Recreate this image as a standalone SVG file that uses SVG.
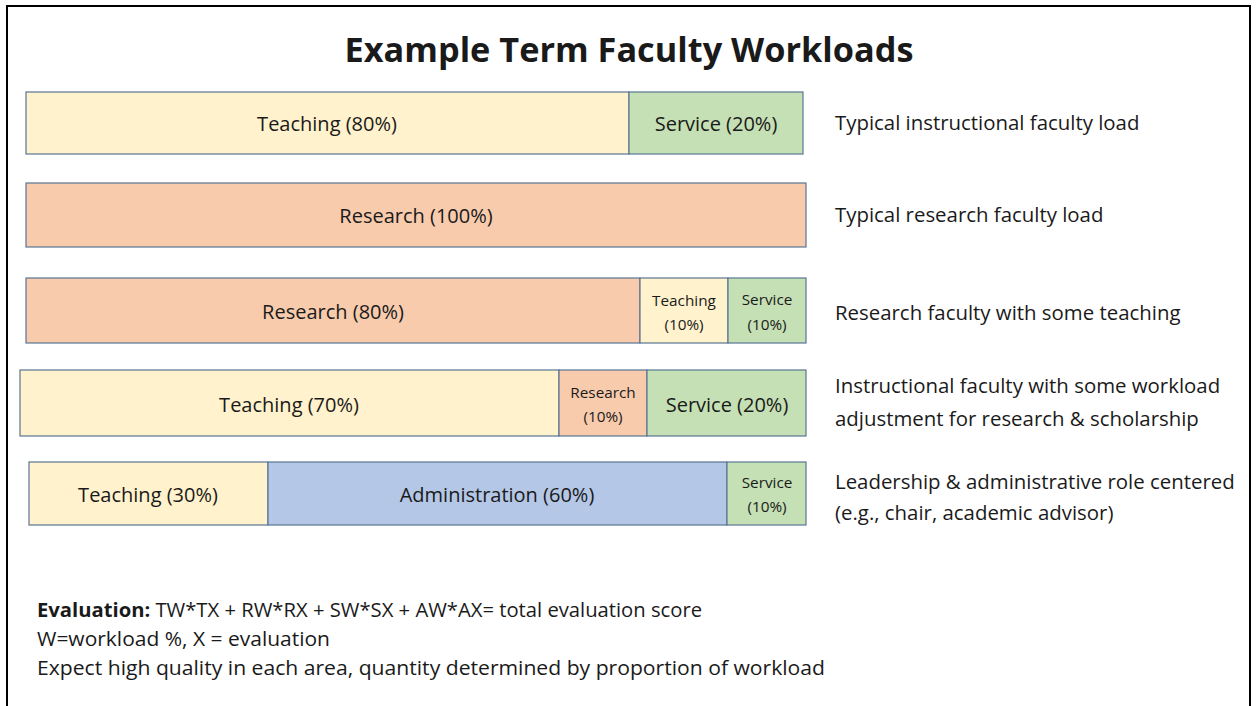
<svg xmlns="http://www.w3.org/2000/svg" width="1257" height="706" viewBox="0 0 1257 706">
<style>
.t{fill:#FFF2CC}.s{fill:#C5E0B4}.r{fill:#F8CBAD}.a{fill:#B4C7E7}
rect.b{stroke:#5A7594;stroke-width:1.2}
text{font-family:"Open Sans","Noto Sans",sans-serif;fill:#1a1a1a}
.l{font-size:20px;text-anchor:middle;dominant-baseline:central}
.sm{font-size:15.3px;text-anchor:middle}
.d{font-size:20.4px}
.e{font-size:20px}
</style>
<rect x="0" y="0" width="1257" height="706" fill="#fff"/>
<rect x="7" y="6" width="1243" height="720" fill="none" stroke="#000" stroke-width="2"/>
<text x="629" y="62" font-size="34.3" font-weight="bold" text-anchor="middle">Example Term Faculty Workloads</text>
<g id="row1">
<rect class="b t" x="26" y="92" width="603" height="62"/>
<rect class="b s" x="629" y="92" width="174" height="62"/>
<text class="l" x="327" y="123">Teaching (80%)</text>
<text class="l" x="716" y="123">Service (20%)</text>
<text class="d" x="835" y="130">Typical instructional faculty load</text>
</g>
<g id="row2">
<rect class="b r" x="26" y="183" width="780" height="64"/>
<text class="l" x="416" y="215">Research (100%)</text>
<text class="d" x="835" y="222">Typical research faculty load</text>
</g>
<g id="row3">
<rect class="b r" x="26" y="278" width="614" height="65"/>
<rect class="b t" x="640" y="278" width="88" height="65"/>
<rect class="b s" x="728" y="278" width="78" height="65"/>
<text class="l" x="333" y="311">Research (80%)</text>
<text class="sm" x="684" y="306">Teaching</text>
<text class="sm" x="684" y="330">(10%)</text>
<text class="sm" x="767" y="305">Service</text>
<text class="sm" x="767" y="330">(10%)</text>
<text class="d" x="835" y="320">Research faculty with some teaching</text>
</g>
<g id="row4">
<rect class="b t" x="20" y="370" width="539" height="66"/>
<rect class="b r" x="559" y="370" width="88" height="66"/>
<rect class="b s" x="647" y="370" width="159" height="66"/>
<text class="l" x="289" y="404">Teaching (70%)</text>
<text class="sm" x="603" y="398">Research</text>
<text class="sm" x="603" y="422">(10%)</text>
<text class="l" x="727" y="404" font-size="22.5">Service (20%)</text>
<text class="d" x="835" y="393">Instructional faculty with some workload</text>
<text class="d" x="835" y="426">adjustment for research &amp; scholarship</text>
</g>
<g id="row5">
<rect class="b t" x="29" y="462" width="239" height="63"/>
<rect class="b a" x="268" y="462" width="459" height="63"/>
<rect class="b s" x="727" y="462" width="79" height="63"/>
<text class="l" x="148" y="494">Teaching (30%)</text>
<text class="l" x="497" y="494">Administration (60%)</text>
<text class="sm" x="767" y="488">Service</text>
<text class="sm" x="767" y="512">(10%)</text>
<text class="d" x="835" y="489">Leadership &amp; administrative role centered</text>
<text class="d" x="835" y="520">(e.g., chair, academic advisor)</text>
</g>
<g id="notes">
<text class="e" x="37" y="617" textLength="665" lengthAdjust="spacingAndGlyphs"><tspan font-weight="bold">Evaluation:</tspan>  TW*TX + RW*RX + SW*SX + AW*AX= total evaluation score</text>
<text class="e" x="37" y="646" textLength="293" lengthAdjust="spacingAndGlyphs">W=workload %, X = evaluation</text>
<text class="e" x="37" y="675" textLength="788" lengthAdjust="spacingAndGlyphs">Expect high quality in each area, quantity determined by proportion of workload</text>
</g>
</svg>
